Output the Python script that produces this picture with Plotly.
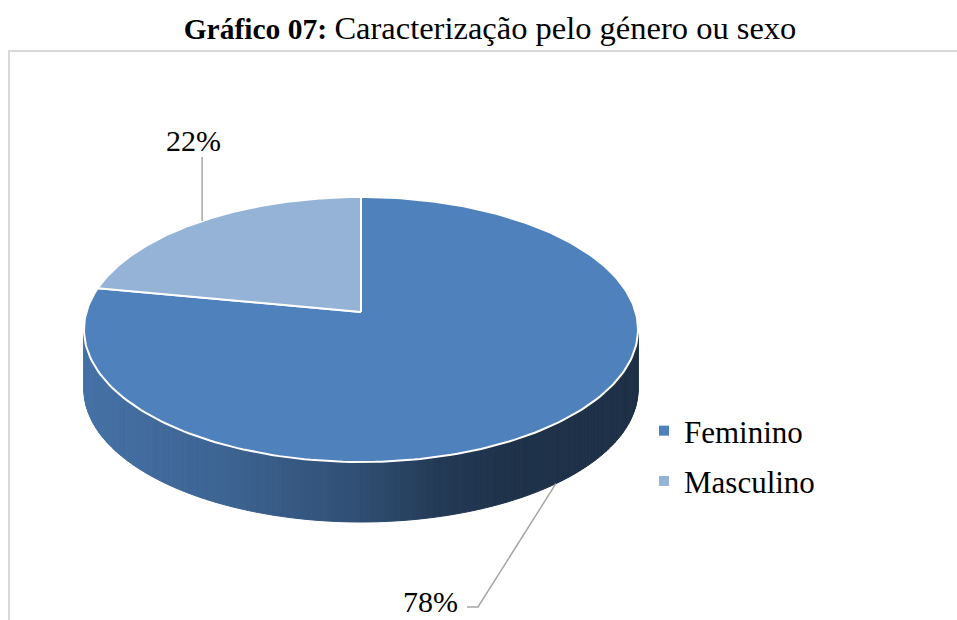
import numpy as np
import plotly.graph_objects as go

# ---- data ----
categories = ["Feminino", "Masculino"]
values = [78, 22]
colors = ["#4f81bd", "#95b3d7"]
title_bold = "Gráfico 07:"
title_rest = "Caracterização pelo género ou sexo"

# ---- geometry (layout, pixel space) ----
W, H = 957, 620
cx, cy0 = 361.0, 312.0      # projected pie centre
A, B, K = 274.6, 130.2, 0.132  # radii and perspective factor
DEPTH = 60.0
FONT = "Liberation Serif, Times New Roman, serif"


def proj(theta, dz=0.0):
    z = np.sin(theta)
    w = 1.0 + K * z
    return cx + A * np.cos(theta) / w, cy0 - B * z / w + dz


def hex2rgb(h):
    h = h.lstrip("#")
    return np.array([int(h[i:i + 2], 16) for i in (0, 2, 4)], dtype=float)


# slice angles (start at 12 o'clock, clockwise)
total = float(sum(values))
starts, ends = [], []
ang = np.pi / 2
for v in values:
    sweep = 2 * np.pi * v / total
    starts.append(ang)
    ends.append(ang - sweep)
    ang -= sweep


def slice_of(theta):
    d = (np.pi / 2 - theta) % (2 * np.pi)
    acc = 0.0
    for i, v in enumerate(values):
        acc += 2 * np.pi * v / total
        if d <= acc + 1e-9:
            return i
    return len(values) - 1


fig = go.Figure()

# ---- side wall (front visible arc) with horizontal shading ----
th_l = np.pi + np.arcsin(K)
th_r = 2 * np.pi - np.arcsin(K)
N = 160
ths = np.linspace(th_l, th_r, N + 1)
xl, _ = proj(th_l)
xr, _ = proj(th_r)
shade_t = [0.0, 0.25, 0.5, 0.65, 0.78, 1.0]
shade_f = [0.88, 0.78, 0.61, 0.45, 0.39, 0.38]
for i in range(N):
    t0, t1 = ths[i], ths[i + 1]
    x0, y0 = proj(t0)
    x1, y1 = proj(t1)
    xb0, yb0 = proj(t0, DEPTH)
    xb1, yb1 = proj(t1, DEPTH)
    tm = 0.5 * (t0 + t1)
    xm, _ = proj(tm)
    frac = (xm - xl) / (xr - xl)
    f = np.interp(frac, shade_t, shade_f)
    rgb = np.clip(hex2rgb(colors[slice_of(tm)]) * f, 0, 255).astype(int)
    col = "rgb(%d,%d,%d)" % tuple(rgb)
    fig.add_trace(go.Scatter(
        x=[x0, x1, xb1, xb0, x0], y=[y0, y1, yb1, yb0, y0],
        mode="lines", fill="toself", fillcolor=col,
        line=dict(color=col, width=1), hoverinfo="skip", showlegend=False))

# ---- top faces ----
for i, name in enumerate(categories):
    t = np.linspace(starts[i], ends[i], 240)
    ax, ay = proj(t)
    fig.add_trace(go.Scatter(
        x=np.concatenate([[cx], ax, [cx]]), y=np.concatenate([[cy0], ay, [cy0]]),
        mode="lines", fill="toself", fillcolor=colors[i],
        line=dict(color="white", width=2), hoverinfo="skip", showlegend=False))

# ---- leader lines & labels ----
mid = [(s + e) / 2 for s, e in zip(starts, ends)]
pct = ["%d%%" % round(100 * v / total) for v in values]
fx, fy = proj(mid[0], DEPTH)
lab0 = (430, 601)
fig.add_trace(go.Scatter(x=[fx, 478, 467], y=[fy, 607, 607], mode="lines",
                         line=dict(color="#a6a6a6", width=1.5),
                         hoverinfo="skip", showlegend=False))
mx, my = proj(mid[1])
lab1 = (193, 140)
fig.add_trace(go.Scatter(x=[mx, mx], y=[my, 157], mode="lines",
                         line=dict(color="#a6a6a6", width=1.5),
                         hoverinfo="skip", showlegend=False))
for (lx, ly), txt in zip([lab0, lab1], pct):
    fig.add_annotation(x=lx, y=ly, text=txt, showarrow=False,
                       xanchor="center", yanchor="middle",
                       font=dict(family=FONT, size=30, color="black"))

# ---- legend entries ----
for i, name in enumerate(categories):
    fig.add_trace(go.Scatter(x=[None], y=[None], mode="markers", name=name,
                             legendgroup=name,
                             marker=dict(symbol="square", size=10, color=colors[i])))

# ---- chart frame ----
fig.add_shape(type="rect", x0=9, y0=51, x1=W + 5, y1=H + 5,
              line=dict(color="#d9d9d9", width=2), layer="below")

fig.update_layout(
    width=W, height=H, autosize=False,
    margin=dict(l=0, r=0, t=0, b=0, pad=0),
    paper_bgcolor="white", plot_bgcolor="white",
    xaxis=dict(range=[0, W], visible=False, fixedrange=True),
    yaxis=dict(range=[H, 0], visible=False, fixedrange=True),
    title=dict(text="<b>%s</b> <span style='font-size:32.5px'>%s</span>" % (title_bold, title_rest),
               x=490 / W, xanchor="center",
               y=1 - 29 / H, yanchor="middle", yref="container",
               font=dict(family=FONT, size=29.5, color="black")),
    legend=dict(x=644 / W, y=1 - 404 / H, xanchor="left", yanchor="top",
                font=dict(family=FONT, size=31, color="black"),
                tracegroupgap=7, bgcolor="rgba(0,0,0,0)"),
    showlegend=True,
)

fig.write_html("out.html", config={"displayModeBar": False},
               post_script="document.body.style.margin='0';")
